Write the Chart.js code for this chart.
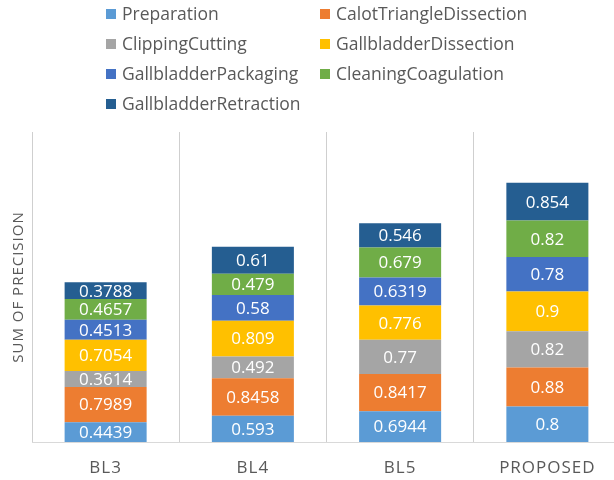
<!DOCTYPE html>
<html>
<head>
<meta charset="utf-8">
<script src="https://cdn.jsdelivr.net/npm/chart.js@4/dist/chart.umd.min.js"></script>
<style>
  html, body { margin: 0; padding: 0; background: #ffffff; overflow: hidden; width: 614px; height: 480px; }
  #wrap { width: 624px; height: 496px; }
  canvas { display: block; }
</style>
</head>
<body>
<div id="wrap"><canvas id="c" width="624" height="496"></canvas></div>
<script>
// ---- data ----
const categories = ["BL3", "BL4", "BL5", "PROPOSED"];
const seriesNames = ["Preparation", "CalotTriangleDissection", "ClippingCutting", "GallbladderDissection",
                     "GallbladderPackaging", "CleaningCoagulation", "GallbladderRetraction"];
const preparation        = [0.4439, 0.593, 0.6944, 0.8];
const calotTriangle      = [0.7989, 0.8458, 0.8417, 0.88];
const clippingCutting    = [0.3614, 0.492, 0.77, 0.82];
const gbDissection       = [0.7054, 0.809, 0.776, 0.9];
const gbPackaging        = [0.4513, 0.58, 0.6319, 0.78];
const cleaningCoag       = [0.4657, 0.479, 0.679, 0.82];
const gbRetraction       = [0.3788, 0.61, 0.546, 0.854];
const seriesValues = [preparation, calotTriangle, clippingCutting, gbDissection, gbPackaging, cleaningCoag, gbRetraction];
const seriesColors = ["#5B9BD5", "#ED7D31", "#A5A5A5", "#FFC000", "#4472C4", "#70AD47", "#255E91"];
const yTitle = "SUM OF PRECISION";

const FONT = "'Open Sans', 'Noto Sans', sans-serif";
const TEXT_COLOR = "#595959";

const datasets = seriesNames.map((name, i) => ({
  label: name,
  data: seriesValues[i],
  backgroundColor: seriesColors[i],
  borderWidth: 0,
  categoryPercentage: 1.0,
  barPercentage: 0.557
}));

// letter spacing for axis texts
const axisSpacing = {
  id: 'axisSpacing',
  beforeDraw(chart) { chart.ctx.letterSpacing = '1px'; },
  beforeDatasetsDraw(chart) { chart.ctx.letterSpacing = '0px'; }
};

// value labels in the bars
const valueLabels = {
  id: 'valueLabels',
  afterDatasetsDraw(chart) {
    const ctx = chart.ctx;
    ctx.save();
    ctx.letterSpacing = '0px';
    ctx.font = "17px " + FONT;
    ctx.fillStyle = "#ffffff";
    ctx.textAlign = "center";
    ctx.textBaseline = "middle";
    chart.data.datasets.forEach((ds, di) => {
      const meta = chart.getDatasetMeta(di);
      meta.data.forEach((bar, j) => {
        const v = ds.data[j];
        const yc = (bar.y + bar.base) / 2;
        ctx.fillText(String(v), bar.x, yc + 1);
      });
    });
    ctx.restore();
  }
};

// two-column legend
const twoColLegend = {
  id: 'twoColLegend',
  afterDraw(chart) {
    const ctx = chart.ctx;
    ctx.save();
    ctx.letterSpacing = '0px';
    ctx.font = "17.5px " + FONT;
    ctx.textAlign = "left";
    ctx.textBaseline = "middle";
    const colX = [106, 320];
    const rowY0 = 14, rowH = 30, box = 10;
    chart.data.datasets.forEach((ds, i) => {
      const col = i % 2, row = Math.floor(i / 2);
      const x = colX[col], y = rowY0 + row * rowH;
      ctx.fillStyle = ds.backgroundColor;
      ctx.fillRect(x, y - box / 2, box, box);
      ctx.fillStyle = TEXT_COLOR;
      ctx.fillText(ds.label, x + 16, y + 1);
    });
    ctx.restore();
  }
};

new Chart(document.getElementById('c'), {
  type: 'bar',
  data: { labels: categories, datasets: datasets },
  options: {
    responsive: false,
    devicePixelRatio: 1,
    animation: false,
    layout: { padding: { top: 132, left: 6, right: 3, bottom: 1.6 } },
    plugins: {
      legend: { display: false },
      tooltip: { enabled: false }
    },
    scales: {
      x: {
        stacked: true,
        grid: { display: true, offset: true, color: '#cfcfcf', lineWidth: 1, drawTicks: false },
        border: { display: true, color: '#d9d9d9', width: 1 },
        ticks: { color: TEXT_COLOR, font: { family: FONT, size: 17 }, padding: 16 }
      },
      y: {
        stacked: true,
        min: 0,
        max: 7,
        grid: { display: false, drawTicks: false },
        border: { display: false },
        ticks: { display: false },
        title: { display: true, text: yTitle, color: TEXT_COLOR, font: { family: FONT, size: 15 }, padding: { top: 4, bottom: 4 } }
      }
    }
  },
  plugins: [axisSpacing, valueLabels, twoColLegend]
});
</script>
</body>
</html>
